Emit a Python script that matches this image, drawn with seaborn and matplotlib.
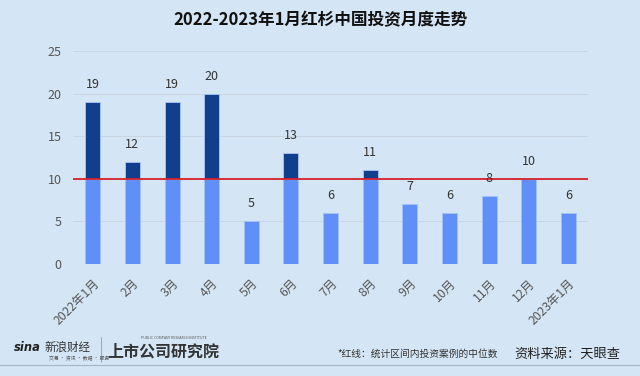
import numpy as np
import pandas as pd
import matplotlib
matplotlib.use('Agg')
import matplotlib.pyplot as plt
import seaborn as sns

# Data
months = ['2022年1月', '2月', '3月', '4月', '5月', '6月', '7月', '8月',
          '9月', '10月', '11月', '12月', '2023年1月']
counts = [19, 12, 19, 20, 5, 13, 6, 11, 7, 6, 8, 10, 6]
median_line = 10

bg = '#d4e6f5'
light = '#5f8ff7'
dark = '#123f8c'

sns.set_theme(style='white')
plt.rcParams['font.family'] = ['Noto Sans CJK SC', 'DejaVu Sans']

df = pd.DataFrame({'month': months, 'count': counts})
df['below'] = df['count'].clip(upper=median_line)

fig = plt.figure(figsize=(6.4, 3.76), dpi=100, facecolor=bg)
ax = fig.add_axes([0.114, 0.298, 0.805, 0.566])
ax.set_facecolor(bg)

# full bar in dark, lower part (up to median) in light
sns.barplot(data=df, x='month', y='count', color=dark, width=0.38,
            edgecolor='#a9c6f7', linewidth=0.6, saturation=1, ax=ax)
sns.barplot(data=df, x='month', y='below', color=light, width=0.38,
            edgecolor='#a9c6f7', linewidth=0.6, saturation=1, ax=ax)

ax.axhline(median_line, color='#d9202a', lw=1.3, zorder=5)

for i, v in enumerate(counts):
    ax.text(i, v + 1.3, str(v), ha='center', va='bottom', fontsize=9,
            color='#333333', zorder=6)

ax.set_xlim(-0.5, 12.5)
ax.set_ylim(0, 25)
ax.set_yticks([0, 5, 10, 15, 20, 25])
ax.yaxis.grid(True, color='#c9d6e2', lw=0.7)
ax.set_axisbelow(True)
for s in ax.spines.values():
    s.set_visible(False)
ax.set_xlabel('')
ax.set_ylabel('')
ax.tick_params(axis='y', length=0, pad=8, labelsize=9, labelcolor='#555555')
ax.tick_params(axis='x', length=0, pad=9, labelsize=8.8, labelcolor='#555555')
plt.setp(ax.get_xticklabels(), rotation=45, ha='right', rotation_mode='anchor')

fig.text(0.5, 0.945, '2022-2023年1月红杉中国投资月度走势', ha='center', va='center',
         fontsize=12, fontweight='bold', color='#111111')

# footer
fig.text(0.022, 0.077, 'sina', fontsize=8.3, fontweight='bold', style='italic',
         color='#222222', ha='left', va='center', family=['DejaVu Sans'])
fig.text(0.069, 0.078, '新浪财经', fontsize=8.3, color='#333333', ha='left', va='center')
fig.text(0.077, 0.045, '交易 · 资讯 · 数据 · 服务', fontsize=3.5, color='#555555',
         ha='left', va='center')
fig.add_artist(plt.Line2D([0.158, 0.158], [0.037, 0.104], color='#999999', lw=0.6))
fig.text(0.167, 0.064, '上市公司研究院', fontsize=11.5, fontweight='bold', style='italic',
         color='#333333', ha='left', va='center')
fig.text(0.22, 0.1, 'PUBLIC COMPANY RESEARCH INSTITUTE', fontsize=2.5,
         color='#555555', ha='left', va='center')
fig.text(0.527, 0.058, '*红线：统计区间内投资案例的中位数', fontsize=7,
         color='#333333', ha='left', va='center')
fig.text(0.803, 0.058, '资料来源：天眼查', fontsize=9.5, color='#222222',
         ha='left', va='center')
fig.add_artist(plt.Line2D([0.0, 1.0], [0.029, 0.029], color='#a8b4bf', lw=0.8))

fig.savefig('out.png', dpi=100, facecolor=bg)
